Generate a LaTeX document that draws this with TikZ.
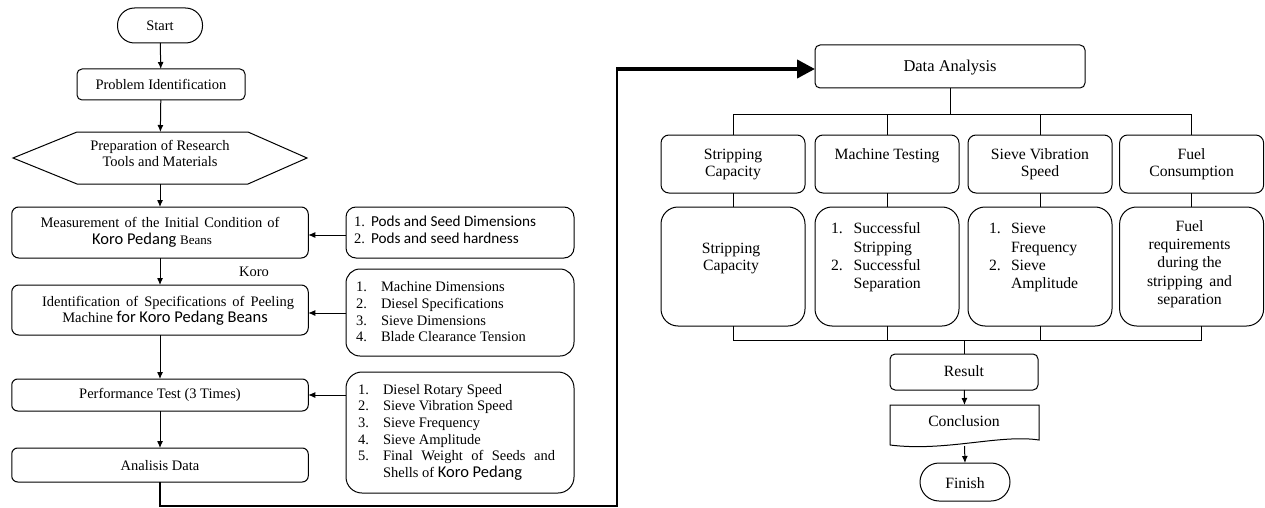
\documentclass[tikz,border=0pt]{standalone}
\usepackage{fontspec}
\setmainfont{Liberation Serif}
\newfontfamily\calib{Carlito}
\usetikzlibrary{arrows.meta,calc}
\newcommand\fl{\fontsize{14.5}{16.7}\selectfont}
\newcommand\fr{\fontsize{15.7}{18.5}\selectfont}
\newcommand\kp[1]{{\calib\fontsize{16.5}{16.7}\selectfont #1}}
\newcommand\nb[2]{\makebox[#1][l]{#2}}
\begin{document}
\begin{tikzpicture}[x=1pt,y=-1pt,
  box/.style={draw=black, line width=1pt, inner sep=0pt, outer sep=0pt, rounded corners=#1},
  box/.default=6,
  ghost/.style={inner sep=0pt, outer sep=0pt},
  arr/.style={-{Latex[length=7pt,width=6pt]}, line width=1pt},
  ln/.style={line width=1pt},
  tl/.style={inner sep=0pt, outer sep=0pt, anchor=base, font=\fl},
  tlw/.style={inner sep=0pt, outer sep=0pt, anchor=base west, font=\fl},
  tr/.style={inner sep=0pt, outer sep=0pt, anchor=base, font=\fr},
  trw/.style={inner sep=0pt, outer sep=0pt, anchor=base west, font=\fr},
]
\useasboundingbox (0,0) rectangle (1265,508);

% ---------------- left column ----------------
\node[box=17, minimum width=85pt, minimum height=35pt] (start) at (160,25.5) {};
\node[tl] (startT) at (160,30.7) {Start};

\node[box=5, minimum width=168pt, minimum height=31pt] (prob) at (161,84.5) {};
\node[tl] (probT) at (161,89.3) {Problem Identification};

\node[ghost, minimum width=294pt, minimum height=52pt] (prep) at (160,158) {};
\draw[ln] (prep.west) -- ($(prep.north west)+(64,0)$) -- ($(prep.north east)+(-59,0)$)
  -- (prep.east) -- ($(prep.south east)+(-59,0)$) -- ($(prep.south west)+(64,0)$) -- cycle;
\node[tl] (prepT1) at (160,150.7) {Preparation of Research};
\node[tl] (prepT2) at (160,166.7) {Tools and Materials};

\node[box=7, minimum width=296.5pt, minimum height=51pt] (meas) at (160,232.5) {};
\node[tl] (measT1) at (160,227.3) {\makebox[239pt][s]{Measurement of the Initial Condition of}};
\node[tl] (measT2) at (152,244) {\kp{Koro Pedang} {\fontsize{13}{16}\selectfont Beans}};

\node[box=10, minimum width=228pt, minimum height=51pt] (r1) at (460,232.5) {};
\node[tlw] (r1a) at (354,226.7) {\nb{17pt}{1.}{\calib\fontsize{15.2}{16}\selectfont Pods and Seed Dimensions}};
\node[tlw] (r1b) at (354,243.3) {\nb{17pt}{2.}{\calib\fontsize{15.2}{16}\selectfont Pods and seed hardness}};

\node[tl] (koro) at (254,276) {Koro};

\node[box=7, minimum width=296.5pt, minimum height=50pt] (ident) at (160,310) {};
\node[tl] (identT1) at (168,306) {\makebox[252pt][s]{Identification of Specifications of Peeling}};
\node[tl] (identT2) at (165,322.7) {Machine \kp{for Koro Pedang Beans}};

\node[box=14, minimum width=228pt, minimum height=87pt] (r2) at (460,312.5) {};
\node[tlw] (r2a) at (356,291.7) {\nb{25pt}{1.}Machine Dimensions};
\node[tlw] (r2b) at (356,308.3) {\nb{25pt}{2.}Diesel Specifications};
\node[tlw] (r2c) at (356,325) {\nb{25pt}{3.}Sieve Dimensions};
\node[tlw] (r2d) at (356,341.7) {\nb{25pt}{4.}Blade Clearance Tension};

\node[box=6, minimum width=296.5pt, minimum height=32pt] (perf) at (160,395) {};
\node[tl] (perfT) at (160,398.3) {Performance Test (3 Times)};

\node[box=16, minimum width=228pt, minimum height=121pt] (r3) at (460,432.5) {};
\node[tlw] (r3a) at (358,394) {\nb{25pt}{1.}Diesel Rotary Speed};
\node[tlw] (r3b) at (358,410.7) {\nb{25pt}{2.}Sieve Vibration Speed};
\node[tlw] (r3c) at (358,427.3) {\nb{25pt}{3.}Sieve Frequency};
\node[tlw] (r3d) at (358,444) {\nb{25pt}{4.}Sieve Amplitude};
\node[tlw] (r3e) at (358,460.7) {\nb{25pt}{5.}\makebox[172pt][s]{Final Weight of Seeds and}};
\node[tlw] (r3f) at (383,477.3) {Shells of \kp{Koro Pedang}};

\node[box=6, minimum width=296.5pt, minimum height=34pt] (ana) at (160,465) {};
\node[tl] (anaT) at (160,470) {Analisis Data};

\draw[arr] (start) -- (prob);
\draw[arr] (prob) -- (prep);
\draw[arr] (prep) -- (meas);
\draw[arr] (meas) -- (ident);
\draw[arr] (ident) -- (perf);
\draw[arr] (perf) -- (ana);
\draw[arr] (r1.west |- 0,235) -- (meas.east |- 0,235);
\draw[arr] (r2.west |- 0,313) -- (ident.east |- 0,313);
\draw[arr] (r3.west |- perf.east) -- (perf.east);

% ---------------- right column ----------------
\node[box=5, minimum width=270pt, minimum height=43pt] (da) at (950,66.5) {};
\node[tr, font=\fontsize{16.5}{18}\selectfont] (daT) at (950,71.7) {Data Analysis};

\coordinate (c1) at (617,506);
\coordinate (c2) at (617,69);
\draw[line width=1.6pt] (ana.south) |- (c1) -- (c2);
\draw[line width=4pt, -{Triangle[length=18pt,width=18pt]}] ($(c2)+(-0.8,0)$) -- (da.west |- c2);

\foreach \n/\x in {1/733, 2/887, 3/1040, 4/1191.6}{
  \node[box=8, minimum width=144pt, minimum height=58pt] (t\n) at (\x,164) {};
  \node[box=17, minimum width=144pt, minimum height=119pt] (b\n) at (\x,266.5) {};
  \draw[ln] (t\n.south) -- (b\n.north);
}
\node[tr] (t1a) at (733,159.3) {Stripping};
\node[tr] (t1b) at (733,176.7) {Capacity};
\node[tr] (t2a) at (887,159.3) {Machine Testing};
\node[tr] (t3a) at (1040,159.3) {Sieve Vibration};
\node[tr] (t3b) at (1040,176.7) {Speed};
\node[tr] (t4a) at (1191.6,159.3) {Fuel};
\node[tr] (t4b) at (1191.6,176.7) {Consumption};

\node[tr] (b1a) at (731,253.3) {Stripping};
\node[tr] (b1b) at (731,270.7) {Capacity};
\node[trw] (b2a) at (831,233.3) {\nb{22.6pt}{1.}Successful};
\node[trw] (b2b) at (853.6,252.7) {Stripping};
\node[trw] (b2c) at (831,270.7) {\nb{22.6pt}{2.}Successful};
\node[trw] (b2d) at (853.6,288.7) {Separation};
\node[trw] (b3a) at (989,233.3) {\nb{22pt}{1.}Sieve};
\node[trw] (b3b) at (1011,252.7) {Frequency};
\node[trw] (b3c) at (989,270.7) {\nb{22pt}{2.}Sieve};
\node[trw] (b3d) at (1011,288.7) {Amplitude};
\node[tr] (b4a) at (1189.5,231.7) {Fuel};
\node[tr] (b4b) at (1189.5,249.3) {requirements};
\node[tr] (b4c) at (1189.5,267.3) {during the};
\node[tr] (b4d) at (1189.5,286) {stripping\, and};
\node[tr] (b4e) at (1189.5,304) {separation};

\coordinate (bus1) at (0,115);
\coordinate (bus2) at (0,340);
\draw[ln] (da.south) -- (da.south |- bus1);
\draw[ln] (t1.north) -- (t1.north |- bus1) -- (t4.north |- bus1) -- (t4.north);
\draw[ln] (t2.north) -- (t2.north |- bus1);
\draw[ln] (t3.north) -- (t3.north |- bus1);

\node[box=5, minimum width=148pt, minimum height=36pt] (res) at (964,372) {};
\node[tr] (resT) at (964,376) {Result};

\draw[ln] (b1.south) -- (b1.south |- bus2) -- ($(b4.south |- bus2)+(10,0)$) -- ($(b4.south)+(10,0)$);
\draw[ln] (b2.south) -- (b2.south |- bus2);
\draw[ln] (b3.south) -- (b3.south |- bus2);
\draw[ln] (res.north |- bus2) -- (res.north);

\node[ghost, minimum width=149pt, minimum height=40pt] (conc) at (964.5,425) {};
\draw[ln] (conc.south west) -- (conc.north west) -- (conc.north east) -- ($(conc.south east)+(0,-5)$)
  .. controls (1000,434) and (945,452) .. (conc.south west);
\node[tr] (concT) at (964,426.7) {Conclusion};

\node[box=19, minimum width=90pt, minimum height=38pt] (fin) at (965,482) {};
\node[tr] (finT) at (965,488.3) {Finish};

\draw[arr] (res) -- (conc.north);
\draw[arr] ($(conc.south)+(0,1)$) -- (fin.north);
\end{tikzpicture}
\end{document}
